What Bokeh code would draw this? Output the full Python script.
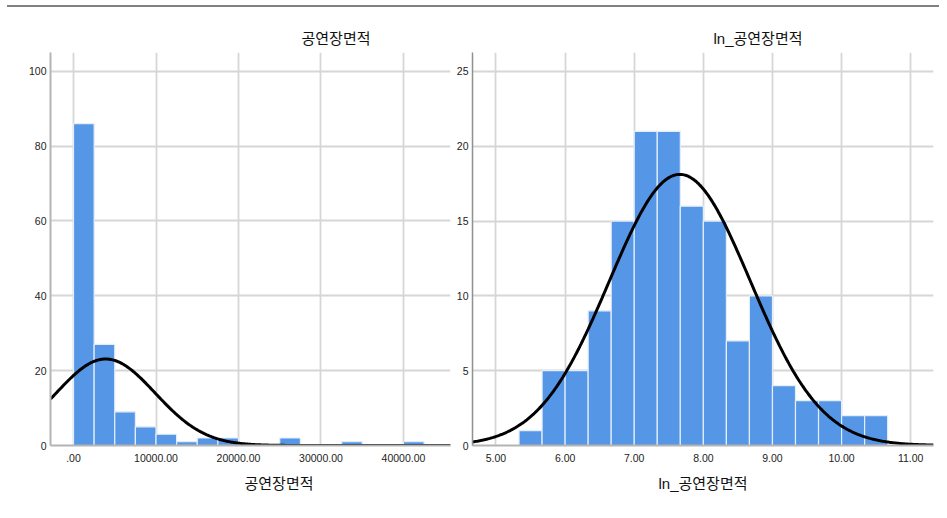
import numpy as np
from bokeh.plotting import figure
from bokeh.models import FixedTicker, Title, Div, Range1d
from bokeh.layouts import row, column
from bokeh.embed import file_html
from bokeh.resources import INLINE

# ---------------- data ----------------
# left: 공연장면적 histogram (bin width 2500, starting at 0)
raw_bin_start = 0.0
raw_bin_width = 2500.0
raw_counts = [86, 27, 9, 5, 3, 1, 2, 2, 0, 0, 2, 0, 0, 1, 0, 0, 1]
raw_mean = 3900.0
raw_sd = 6000.0
raw_xticks = [0, 10000, 20000, 30000, 40000]
raw_xtick_labels = [".00", "10000.00", "20000.00", "30000.00", "40000.00"]
raw_yticks = [0, 20, 40, 60, 80, 100]

# right: ln_공연장면적 histogram (bin width 1/3)
ln_bin_start = 16.0 / 3.0
ln_bin_width = 1.0 / 3.0
ln_counts = [1, 5, 5, 9, 15, 21, 21, 16, 15, 7, 10, 4, 3, 3, 2, 2]
ln_mean = 7.66
ln_sd = 1.02
ln_xticks = [5, 6, 7, 8, 9, 10, 11]
ln_xtick_labels = ["5.00", "6.00", "7.00", "8.00", "9.00", "10.00", "11.00"]
ln_yticks = [0, 5, 10, 15, 20, 25]

N = sum(ln_counts)

TITLE_FONT = "'Liberation Sans', 'Noto Sans CJK KR'"
TICK_FONT = "'Liberation Sans'"
BAR = "#5596e6"
GRID = "#d6d6d6"


def make_panel(counts, start, bw, mean, sd, xr, yr, xticks, xlabels, yticks,
               title, title_off, xlabel, xlabel_off, width, bl, br, ycolor):
    p = figure(width=width, height=498, output_backend="svg", toolbar_location=None,
               x_range=Range1d(*xr), y_range=Range1d(*yr),
               min_border_left=bl, min_border_right=br,
               min_border_top=40, min_border_bottom=65)
    p.outline_line_color = None
    p.background_fill_color = "white"
    p.border_fill_color = "white"

    lefts = [start + i * bw for i in range(len(counts))]
    rights = [l + bw for l in lefts]
    p.quad(left=lefts, right=rights, top=counts, bottom=0,
           fill_color=BAR, line_color="#e4eefa", line_width=1.2)

    xs = np.linspace(xr[0], xr[1], 400)
    ys = N * bw * np.exp(-0.5 * ((xs - mean) / sd) ** 2) / (sd * np.sqrt(2 * np.pi))
    p.line(xs, ys, line_color="black", line_width=3)

    p.xaxis.ticker = FixedTicker(ticks=xticks)
    p.xaxis.major_label_overrides = {t: l for t, l in zip(xticks, xlabels)}
    p.yaxis.ticker = FixedTicker(ticks=yticks)
    for ax in (p.xaxis[0], p.yaxis[0]):
        ax.major_tick_line_color = None
        ax.minor_tick_line_color = None
        ax.major_tick_out = 0
        ax.major_tick_in = 0
        ax.minor_tick_out = 0
        ax.minor_tick_in = 0
        ax.major_label_text_font = TICK_FONT
        ax.major_label_text_font_size = "10.5px"
        ax.major_label_text_color = "#222222"
    p.xaxis.major_label_standoff = 8
    p.yaxis.major_label_standoff = 4
    p.xaxis.axis_line_color = "#b4b4b4"
    p.xaxis.axis_line_width = 2
    p.yaxis.axis_line_color = ycolor
    p.yaxis.axis_line_width = 1.5 if ycolor != "#b4b4b4" else 2

    p.xgrid.grid_line_color = GRID
    p.ygrid.grid_line_color = GRID
    p.xgrid.grid_line_width = 1.8
    p.ygrid.grid_line_width = 1.8

    p.add_layout(Title(text=title, align="left", offset=title_off,
                       text_font=TITLE_FONT, text_font_size="15px",
                       text_font_style="normal", text_color="#111111", standoff=11), "above")
    p.add_layout(Title(text=xlabel, align="left", offset=xlabel_off,
                       text_font=TITLE_FONT, text_font_size="15px",
                       text_font_style="normal", text_color="#111111", standoff=16), "below")
    return p


p1 = make_panel(raw_counts, raw_bin_start, raw_bin_width, raw_mean, raw_sd,
                (-2790, 45700), (0, 105), raw_xticks, raw_xtick_labels, raw_yticks,
                "공연장면적", 251, "공연장면적", 194, 452, 50, 2, "#b4b4b4")
p2 = make_panel(ln_counts, ln_bin_start, ln_bin_width, ln_mean, ln_sd,
                (4.66, 11.33), (0, 26.27), ln_xticks, ln_xtick_labels, ln_yticks,
                "ln_공연장면적", 241, "ln_공연장면적", 186, 487, 20, 6, "#909090")

top_line = Div(text="", width=932, height=2, margin=(5, 0, 5, 7),
               styles={"background-color": "#808080"})

layout = column(top_line, row(p1, p2))
open("out.html", "w").write(file_html(layout, INLINE))
